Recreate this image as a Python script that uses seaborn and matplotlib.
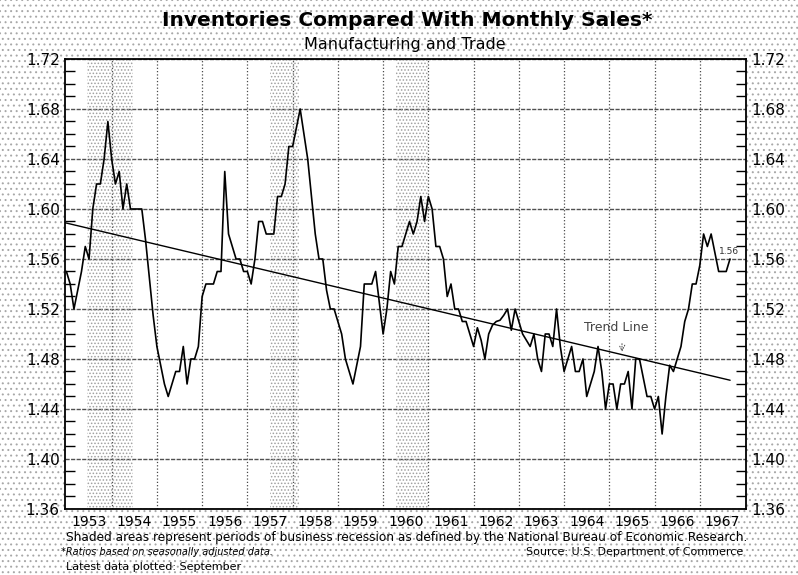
import numpy as np
import pandas as pd
import matplotlib
matplotlib.use('Agg')
import matplotlib.pyplot as plt
import seaborn as sns
from matplotlib.patches import Rectangle
from matplotlib.ticker import MultipleLocator

# Monthly inventory / sales ratios (Jan..Dec)
ratio_1953 = [1.55, 1.54, 1.52, 1.535, 1.55, 1.57, 1.56, 1.60, 1.62, 1.62, 1.64, 1.67]
ratio_1954 = [1.64, 1.62, 1.63, 1.60, 1.62, 1.60, 1.60, 1.60, 1.60, 1.575, 1.545, 1.515]
ratio_1955 = [1.49, 1.475, 1.46, 1.45, 1.46, 1.47, 1.47, 1.49, 1.46, 1.48, 1.48, 1.49]
ratio_1956 = [1.53, 1.54, 1.54, 1.54, 1.55, 1.55, 1.63, 1.58, 1.57, 1.56, 1.56, 1.55]
ratio_1957 = [1.55, 1.54, 1.56, 1.59, 1.59, 1.58, 1.58, 1.58, 1.61, 1.61, 1.62, 1.65]
ratio_1958 = [1.65, 1.665, 1.68, 1.66, 1.64, 1.61, 1.58, 1.56, 1.56, 1.535, 1.52, 1.52]
ratio_1959 = [1.51, 1.50, 1.48, 1.47, 1.46, 1.475, 1.49, 1.54, 1.54, 1.54, 1.55, 1.525]
ratio_1960 = [1.50, 1.52, 1.55, 1.54, 1.57, 1.57, 1.58, 1.59, 1.58, 1.59, 1.61, 1.59]
ratio_1961 = [1.61, 1.60, 1.57, 1.57, 1.56, 1.53, 1.54, 1.52, 1.52, 1.51, 1.51, 1.50]
ratio_1962 = [1.49, 1.505, 1.495, 1.48, 1.50, 1.507, 1.51, 1.511, 1.515, 1.52, 1.503, 1.52]
ratio_1963 = [1.51, 1.50, 1.495, 1.49, 1.50, 1.48, 1.47, 1.50, 1.50, 1.49, 1.52, 1.49]
ratio_1964 = [1.47, 1.48, 1.49, 1.47, 1.47, 1.48, 1.45, 1.46, 1.47, 1.49, 1.47, 1.44]
ratio_1965 = [1.46, 1.46, 1.44, 1.46, 1.46, 1.47, 1.44, 1.48, 1.48, 1.465, 1.45, 1.45]
ratio_1966 = [1.44, 1.45, 1.42, 1.45, 1.475, 1.47, 1.48, 1.49, 1.51, 1.52, 1.54, 1.54]
ratio_1967 = [1.555, 1.58, 1.57, 1.58, 1.565, 1.55, 1.55, 1.55, 1.56]

years = list(range(1953, 1968))
year_labels = [str(y) for y in years]

# recession periods (fractional years, as shaded on the chart)
recession_start = [1953.45, 1957.50, 1960.29]
recession_end = [1954.48, 1958.15, 1961.00]

# trend line end points
trend_x = [1952.97, 1967.67]
trend_y = [1.589, 1.463]

ratios = (ratio_1953 + ratio_1954 + ratio_1955 + ratio_1956 + ratio_1957 +
          ratio_1958 + ratio_1959 + ratio_1960 + ratio_1961 + ratio_1962 +
          ratio_1963 + ratio_1964 + ratio_1965 + ratio_1966 + ratio_1967)
df = pd.DataFrame({'year': 1953 + np.arange(len(ratios)) / 12, 'ratio': ratios})
trend = pd.DataFrame({'year': trend_x, 'ratio': trend_y})

sns.set_style('white')
plt.rcParams['font.family'] = ['DejaVu Sans']
plt.rcParams['hatch.linewidth'] = 0.7
plt.rcParams['text.color'] = 'black'
plt.rcParams['xtick.color'] = 'black'
plt.rcParams['ytick.color'] = 'black'

fig = plt.figure(figsize=(7.98, 5.75), dpi=100)

# stippled paper background
fig.add_artist(Rectangle((0, 0), 1, 1, transform=fig.transFigure, facecolor='white',
                         edgecolor='#a8a8a8', hatch='...', lw=0, zorder=-10))

ax = fig.add_axes([0.0818, 0.1148, 0.8530, 0.7826])
ax.set_facecolor('white')

for s, e in zip(recession_start, recession_end):
    ax.axvspan(s, e, facecolor='none', edgecolor='#a0a0a0', hatch='.....', lw=0, zorder=1)

sns.lineplot(data=trend, x='year', y='ratio', color='black', lw=1.0, ax=ax)
sns.lineplot(data=df, x='year', y='ratio', color='black', lw=1.2, ax=ax)

ax.set_xlim(1952.975, 1968.02)
ax.set_ylim(1.36, 1.72)

# x: year labels centred in each year, dotted gridlines on year boundaries
ax.set_xticks([y + 0.5 for y in years])
ax.set_xticklabels(year_labels, fontsize=10)
ax.set_xticks(years[1:], minor=True)
ax.tick_params(axis='x', which='both', length=0, pad=4)
ax.grid(axis='x', which='minor', color='#4a4a4a', lw=0.9, ls=':')

# y: labels on both sides, inward minor ticks
ax.yaxis.set_major_locator(MultipleLocator(0.04))
ax.yaxis.set_minor_locator(MultipleLocator(0.01))
ax.yaxis.set_major_formatter(lambda v, p: f'{v:.2f}')
ax.tick_params(axis='y', which='major', length=0, labelsize=11, pad=4,
               left=True, right=True, labelleft=True, labelright=True)
ax.tick_params(axis='y', which='minor', direction='in', length=7, width=1.0,
               left=True, right=True, color='black')
ax.grid(axis='y', which='major', color='#505050', lw=1.0, ls=(0, (3, 1)))

for sp in ax.spines.values():
    sp.set_color('black')
    sp.set_linewidth(1.3)

ax.set_xlabel('')
ax.set_ylabel('')

# labels on the chart
ax.annotate(f'{ratios[-1]:.2f}', xy=(df['year'].iloc[-1], ratios[-1]), xytext=(-1, 2),
            textcoords='offset points', ha='center', va='bottom', fontsize=6.5, color='#333333')
arrow_x = 1965.28
arrow_y = np.interp(arrow_x, trend_x, trend_y)
ax.annotate('', xy=(arrow_x, arrow_y), xytext=(arrow_x, arrow_y + 0.011),
            arrowprops=dict(arrowstyle='->', color='#444444', lw=0.7, ls=':'))
ax.text(1965.15, 1.505, 'Trend Line', ha='center', va='center', fontsize=9, color='#444444')

# titles and notes
fig.text(0.51, 0.964, 'Inventories Compared With Monthly Sales*', ha='center', va='center',
         fontsize=14.5, fontweight='bold')
fig.text(0.507, 0.923, 'Manufacturing and Trade', ha='center', va='center', fontsize=11.5)
fig.text(0.083, 0.066, 'Shaded areas represent periods of business recession as defined by the '
         'National Bureau of Economic Research.', ha='left', va='center', fontsize=8.7)
fig.text(0.077, 0.040, '*Ratios based on seasonally adjusted data.', ha='left', va='center',
         fontsize=7, style='italic')
fig.text(0.932, 0.040, 'Source: U.S. Department of Commerce', ha='right', va='center', fontsize=8)
fig.text(0.083, 0.014, 'Latest data plotted: September', ha='left', va='center', fontsize=8)

fig.savefig('out.png', dpi=100)
